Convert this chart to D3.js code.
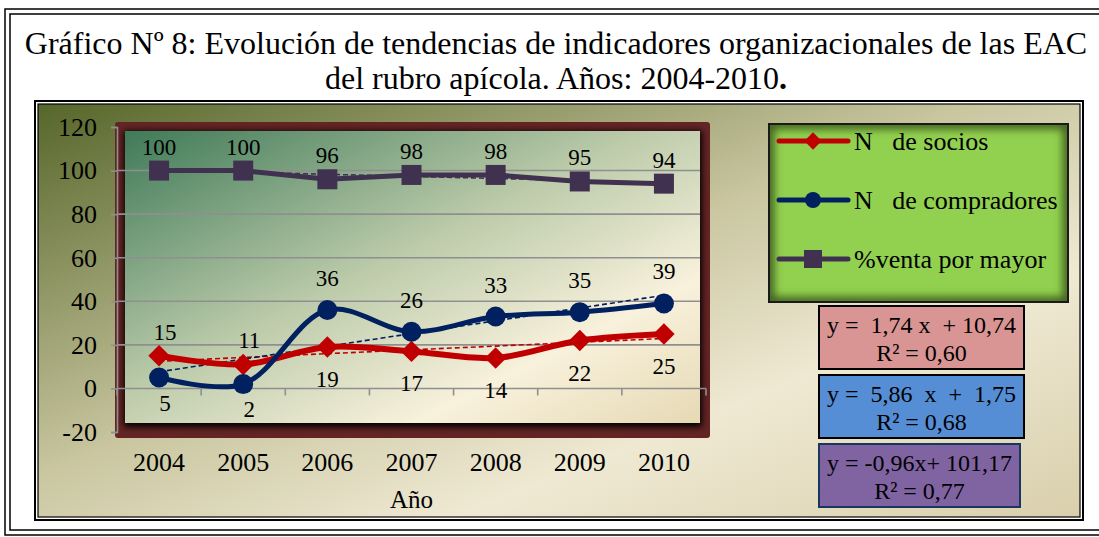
<!DOCTYPE html>
<html lang="es">
<head>
<meta charset="UTF-8">
<title>Gráfico Nº 8</title>
<script src="https://d3js.org/d3.v7.min.js"></script>
<style>
  body { margin: 0; background: #fff; }
  svg { display: block; }
  svg text { font-family: 'Liberation Serif', 'DejaVu Serif', serif; white-space: pre; }
</style>
</head>
<body>
<svg></svg>
<script>
    /* data */
    const years = ["2004", "2005", "2006", "2007", "2008", "2009", "2010"];
    const socios = [15, 11, 19, 17, 14, 22, 25];
    const compradores = [5, 2, 36, 26, 33, 35, 39];
    const ventaMayor = [100, 100, 96, 98, 98, 95, 94];
    const yTicks = [-20, 0, 20, 40, 60, 80, 100, 120];
    // trend line coefficients, as printed in the boxes
    const trendSlope = [1.74, 5.86, -0.96];
    const trendIntercept = [10.74, 1.75, 101.17];
    const trendLabels = [
        ["y =  1,74 x  + 10,74", "R² = 0,60"],
        ["y =  5,86  x  +  1,75", "R² = 0,68"],
        ["y = -0,96x+ 101,17", "R² = 0,77"]
    ];
    const seriesNames = ["N   de socios", "N   de compradores", "%venta por mayor"];
    // which data labels sit below the point
    const sociosBelow = [false, false, true, true, true, true, true];
    const compradoresBelow = [true, true, false, false, false, false, false];

    /* layout */
    const width = 1099;
    const height = 537;
    const plot = {left: 117, right: 706, top: 127, bottom: 432};

    const svg = d3.select("svg")
        .attr("width", width)
        .attr("height", height);

    const defs = svg.append("defs");
    const bgGrad = defs.append("linearGradient").attr("id", "bgGrad")
        .attr("x1", "0").attr("y1", "0").attr("x2", "1").attr("y2", "1");
    bgGrad.append("stop").attr("offset", "0").attr("stop-color", "#56662a");
    bgGrad.append("stop").attr("offset", "0.45").attr("stop-color", "#c9c6a0");
    bgGrad.append("stop").attr("offset", "0.7").attr("stop-color", "#efe9d3");
    bgGrad.append("stop").attr("offset", "1").attr("stop-color", "#d9cfac");

    const panelGrad = defs.append("linearGradient").attr("id", "panelGrad")
        .attr("x1", "0").attr("y1", "0").attr("x2", "1").attr("y2", "1");
    panelGrad.append("stop").attr("offset", "0").attr("stop-color", "#3f7a58");
    panelGrad.append("stop").attr("offset", "0.45").attr("stop-color", "#bccbaa");
    panelGrad.append("stop").attr("offset", "0.75").attr("stop-color", "#f8f1dc");
    panelGrad.append("stop").attr("offset", "1").attr("stop-color", "#e6d9b4");

    const shadow = defs.append("filter").attr("id", "inShadow");
    shadow.append("feGaussianBlur").attr("in", "SourceAlpha").attr("stdDeviation", 3);
    const soft = defs.append("filter").attr("id", "soft");
    soft.append("feGaussianBlur").attr("stdDeviation", 4);
    defs.append("clipPath").attr("id", "legClip")
        .append("rect").attr("x", 769).attr("y", 124).attr("width", 299).attr("height", 178);

    /* page frame */
    svg.append("rect").attr("x", 5).attr("y", 9).attr("width", 1100).attr("height", 526)
        .attr("fill", "none").attr("stroke", "#000").attr("stroke-width", 1.5);
    svg.append("rect").attr("x", 10).attr("y", 14).attr("width", 1100).attr("height", 516)
        .attr("fill", "none").attr("stroke", "#000").attr("stroke-width", 1.5);

    /* title */
    const title = svg.append("text")
        .attr("text-anchor", "middle")
        .attr("font-size", 32)
        .attr("fill", "#000");
    title.append("tspan").attr("x", 556).attr("y", 54)
        .text("Gráfico Nº 8: Evolución de tendencias de indicadores organizacionales de las EAC");
    const t2 = title.append("tspan").attr("x", 556).attr("y", 89);
    t2.append("tspan").text("del rubro apícola. Años: 2004-2010");
    t2.append("tspan").attr("font-weight", "bold").text(".");

    /* chart area */
    svg.append("rect").attr("x", 34).attr("y", 100).attr("width", 1050).attr("height", 421)
        .attr("fill", "#000");
    svg.append("rect").attr("x", 36).attr("y", 102).attr("width", 1046).attr("height", 417)
        .attr("fill", "#fff");
    svg.append("rect").attr("x", 38).attr("y", 104).attr("width", 1042).attr("height", 413)
        .attr("fill", "url(#bgGrad)").attr("stroke", "#000").attr("stroke-width", 1.2);

    /* plot frame */
    svg.append("rect").attr("x", 115).attr("y", 122).attr("width", 595).attr("height", 316)
        .attr("rx", 3).attr("fill", "#632424");
    svg.append("rect").attr("x", 124).attr("y", 131).attr("width", 578).attr("height", 296)
        .attr("fill", "#6d6a55").attr("filter", "url(#inShadow)");
    svg.append("rect").attr("x", 125).attr("y", 131).attr("width", 575).attr("height", 292)
        .attr("fill", "url(#panelGrad)");

    /* scales */
    const x = d3.scaleBand().domain(years).range([plot.left, plot.right]);
    const y = d3.scaleLinear().domain([-20, 120]).range([plot.bottom, plot.top]);
    const cx = (d) => x(d) + x.bandwidth() / 2;

    /* gridlines */
    svg.append("g").selectAll("line").data(yTicks.filter((v) => v > 0 && v < 120)).enter()
        .append("line")
        .attr("x1", plot.left).attr("x2", 700)
        .attr("y1", (d) => y(d)).attr("y2", (d) => y(d))
        .attr("stroke", "#8f8f8f").attr("stroke-width", 1.6);

    /* y axis */
    const yAxis = svg.append("g")
        .attr("transform", `translate(${plot.left},0)`)
        .call(d3.axisLeft(y).tickValues(yTicks).tickSize(6).tickPadding(14)
            .tickFormat((d) => String(d)));
    yAxis.attr("font-family", null);
    yAxis.select(".domain").attr("stroke", "#8f8f8f").attr("stroke-width", 1.6);
    yAxis.selectAll(".tick line").attr("stroke", "#8f8f8f").attr("stroke-width", 1.6);
    yAxis.selectAll("text").attr("font-size", 26)
        .attr("fill", "#000").attr("dy", "0.32em");

    /* x axis on y = 0 */
    const xAxisG = svg.append("g").attr("transform", `translate(0,${y(0)})`);
    xAxisG.append("line").attr("x1", plot.left).attr("x2", plot.right)
        .attr("stroke", "#8f8f8f").attr("stroke-width", 1.6);
    xAxisG.selectAll(".xt").data(years.concat(["end"])).enter().append("line")
        .attr("x1", (d, i) => plot.left + i * x.bandwidth())
        .attr("x2", (d, i) => plot.left + i * x.bandwidth())
        .attr("y1", 0).attr("y2", 7)
        .attr("stroke", "#8f8f8f").attr("stroke-width", 1.6);
    svg.append("g").selectAll("text").data(years).enter().append("text")
        .attr("x", (d) => cx(d)).attr("y", 471)
        .attr("text-anchor", "middle").attr("font-size", 26)
        .text((d) => d);
    svg.append("text").attr("x", cx("2007")).attr("y", 508)
        .attr("text-anchor", "middle").attr("font-size", 25).text("Año");

    /* trend lines */
    const trendColors = ["#c00000", "#002060", "#403151"];
    trendSlope.forEach((m, k) => {
        svg.append("line")
            .attr("x1", cx(years[0])).attr("x2", cx(years[years.length - 1]))
            .attr("y1", y(m * 1 + trendIntercept[k]))
            .attr("y2", y(m * years.length + trendIntercept[k]))
            .attr("stroke", trendColors[k]).attr("stroke-width", 1.6)
            .attr("stroke-dasharray", "5,3");
    });

    /* series */
    const smooth = d3.line().x((d, i) => cx(years[i])).y((d) => y(d)).curve(d3.curveCatmullRom.alpha(0.5));
    const straight = d3.line().x((d, i) => cx(years[i])).y((d) => y(d));

    svg.append("path").attr("d", smooth(socios)).attr("fill", "none")
        .attr("stroke", "#c00000").attr("stroke-width", 6).attr("stroke-linejoin", "round");
    svg.append("path").attr("d", smooth(compradores)).attr("fill", "none")
        .attr("stroke", "#002060").attr("stroke-width", 5).attr("stroke-linejoin", "round");
    svg.append("path").attr("d", straight(ventaMayor)).attr("fill", "none")
        .attr("stroke", "#403151").attr("stroke-width", 5).attr("stroke-linejoin", "round");

    const diamond = d3.symbol().type(d3.symbolSquare).size(230);
    svg.append("g").selectAll("path").data(socios).enter().append("path")
        .attr("d", diamond)
        .attr("transform", (d, i) => `translate(${cx(years[i])},${y(d)}) rotate(45)`)
        .attr("fill", "#c00000");
    svg.append("g").selectAll("circle").data(compradores).enter().append("circle")
        .attr("cx", (d, i) => cx(years[i])).attr("cy", (d) => y(d)).attr("r", 10)
        .attr("fill", "#002060");
    svg.append("g").selectAll("rect").data(ventaMayor).enter().append("rect")
        .attr("x", (d, i) => cx(years[i]) - 10).attr("y", (d) => y(d) - 10)
        .attr("width", 20).attr("height", 20)
        .attr("fill", "#403151");

    /* data labels */
    const labels = svg.append("g").attr("font-size", 23).attr("text-anchor", "middle");
    labels.selectAll(".ls").data(socios).enter().append("text")
        .attr("x", (d, i) => cx(years[i]) + (sociosBelow[i] ? 0 : 6))
        .attr("y", (d, i) => y(d) + (sociosBelow[i] ? 40 : -16))
        .text((d) => d);
    labels.selectAll(".lc").data(compradores).enter().append("text")
        .attr("x", (d, i) => cx(years[i]) + (compradoresBelow[i] ? 6 : 0))
        .attr("y", (d, i) => y(d) + (compradoresBelow[i] ? 33 : -24))
        .text((d) => d);
    labels.selectAll(".lv").data(ventaMayor).enter().append("text")
        .attr("x", (d, i) => cx(years[i]))
        .attr("y", (d) => y(d) - 16)
        .text((d) => d);

    /* legend */
    svg.append("rect").attr("x", 769).attr("y", 124).attr("width", 299).attr("height", 178)
        .attr("fill", "#92d050");
    svg.append("rect").attr("x", 769).attr("y", 124).attr("width", 299).attr("height", 178)
        .attr("fill", "none").attr("stroke", "#3d5a1a").attr("stroke-width", 10)
        .attr("filter", "url(#soft)").attr("clip-path", "url(#legClip)");
    svg.append("rect").attr("x", 769).attr("y", 124).attr("width", 299).attr("height", 178)
        .attr("fill", "none").attr("stroke", "#1a1a1a").attr("stroke-width", 2);
    const legRows = [141, 200, 259];
    legRows.forEach((ly, k) => {
        const g = svg.append("g").attr("transform", `translate(0,${ly})`);
        g.append("line").attr("x1", 779).attr("x2", 848)
            .attr("stroke", trendColors[k]).attr("stroke-width", 5).attr("stroke-linecap", "round");
        if (k === 0) {
            g.append("path").attr("d", d3.symbol().type(d3.symbolSquare).size(150))
                .attr("transform", "translate(813,0) rotate(45)").attr("fill", "#c00000");
        } else if (k === 1) {
            g.append("circle").attr("cx", 813).attr("cy", 0).attr("r", 8).attr("fill", "#002060");
        } else {
            g.append("rect").attr("x", 804).attr("y", -9).attr("width", 18).attr("height", 18)
                .attr("fill", "#403151");
        }
        g.append("text").attr("x", 854).attr("y", 9).attr("font-size", 26).text(seriesNames[k]);
    });

    /* equation boxes */
    const boxFill = ["#d99594", "#558ed5", "#8064a2"];
    const boxStroke = ["#000", "#000", "#17375e"];
    const boxTop = [306, 375, 444];
    const boxW = [205, 205, 201];
    trendLabels.forEach((lines, k) => {
        svg.append("rect").attr("x", 819).attr("y", boxTop[k]).attr("width", boxW[k]).attr("height", 63)
            .attr("fill", boxFill[k]).attr("stroke", boxStroke[k]).attr("stroke-width", 2);
        const t = svg.append("text").attr("text-anchor", "middle").attr("font-size", 24);
        t.append("tspan").attr("x", 819 + boxW[k] / 2).attr("y", boxTop[k] + 27).text(lines[0]);
        t.append("tspan").attr("x", 819 + boxW[k] / 2).attr("y", boxTop[k] + 55).text(lines[1]);
    });
</script>
</body>
</html>
